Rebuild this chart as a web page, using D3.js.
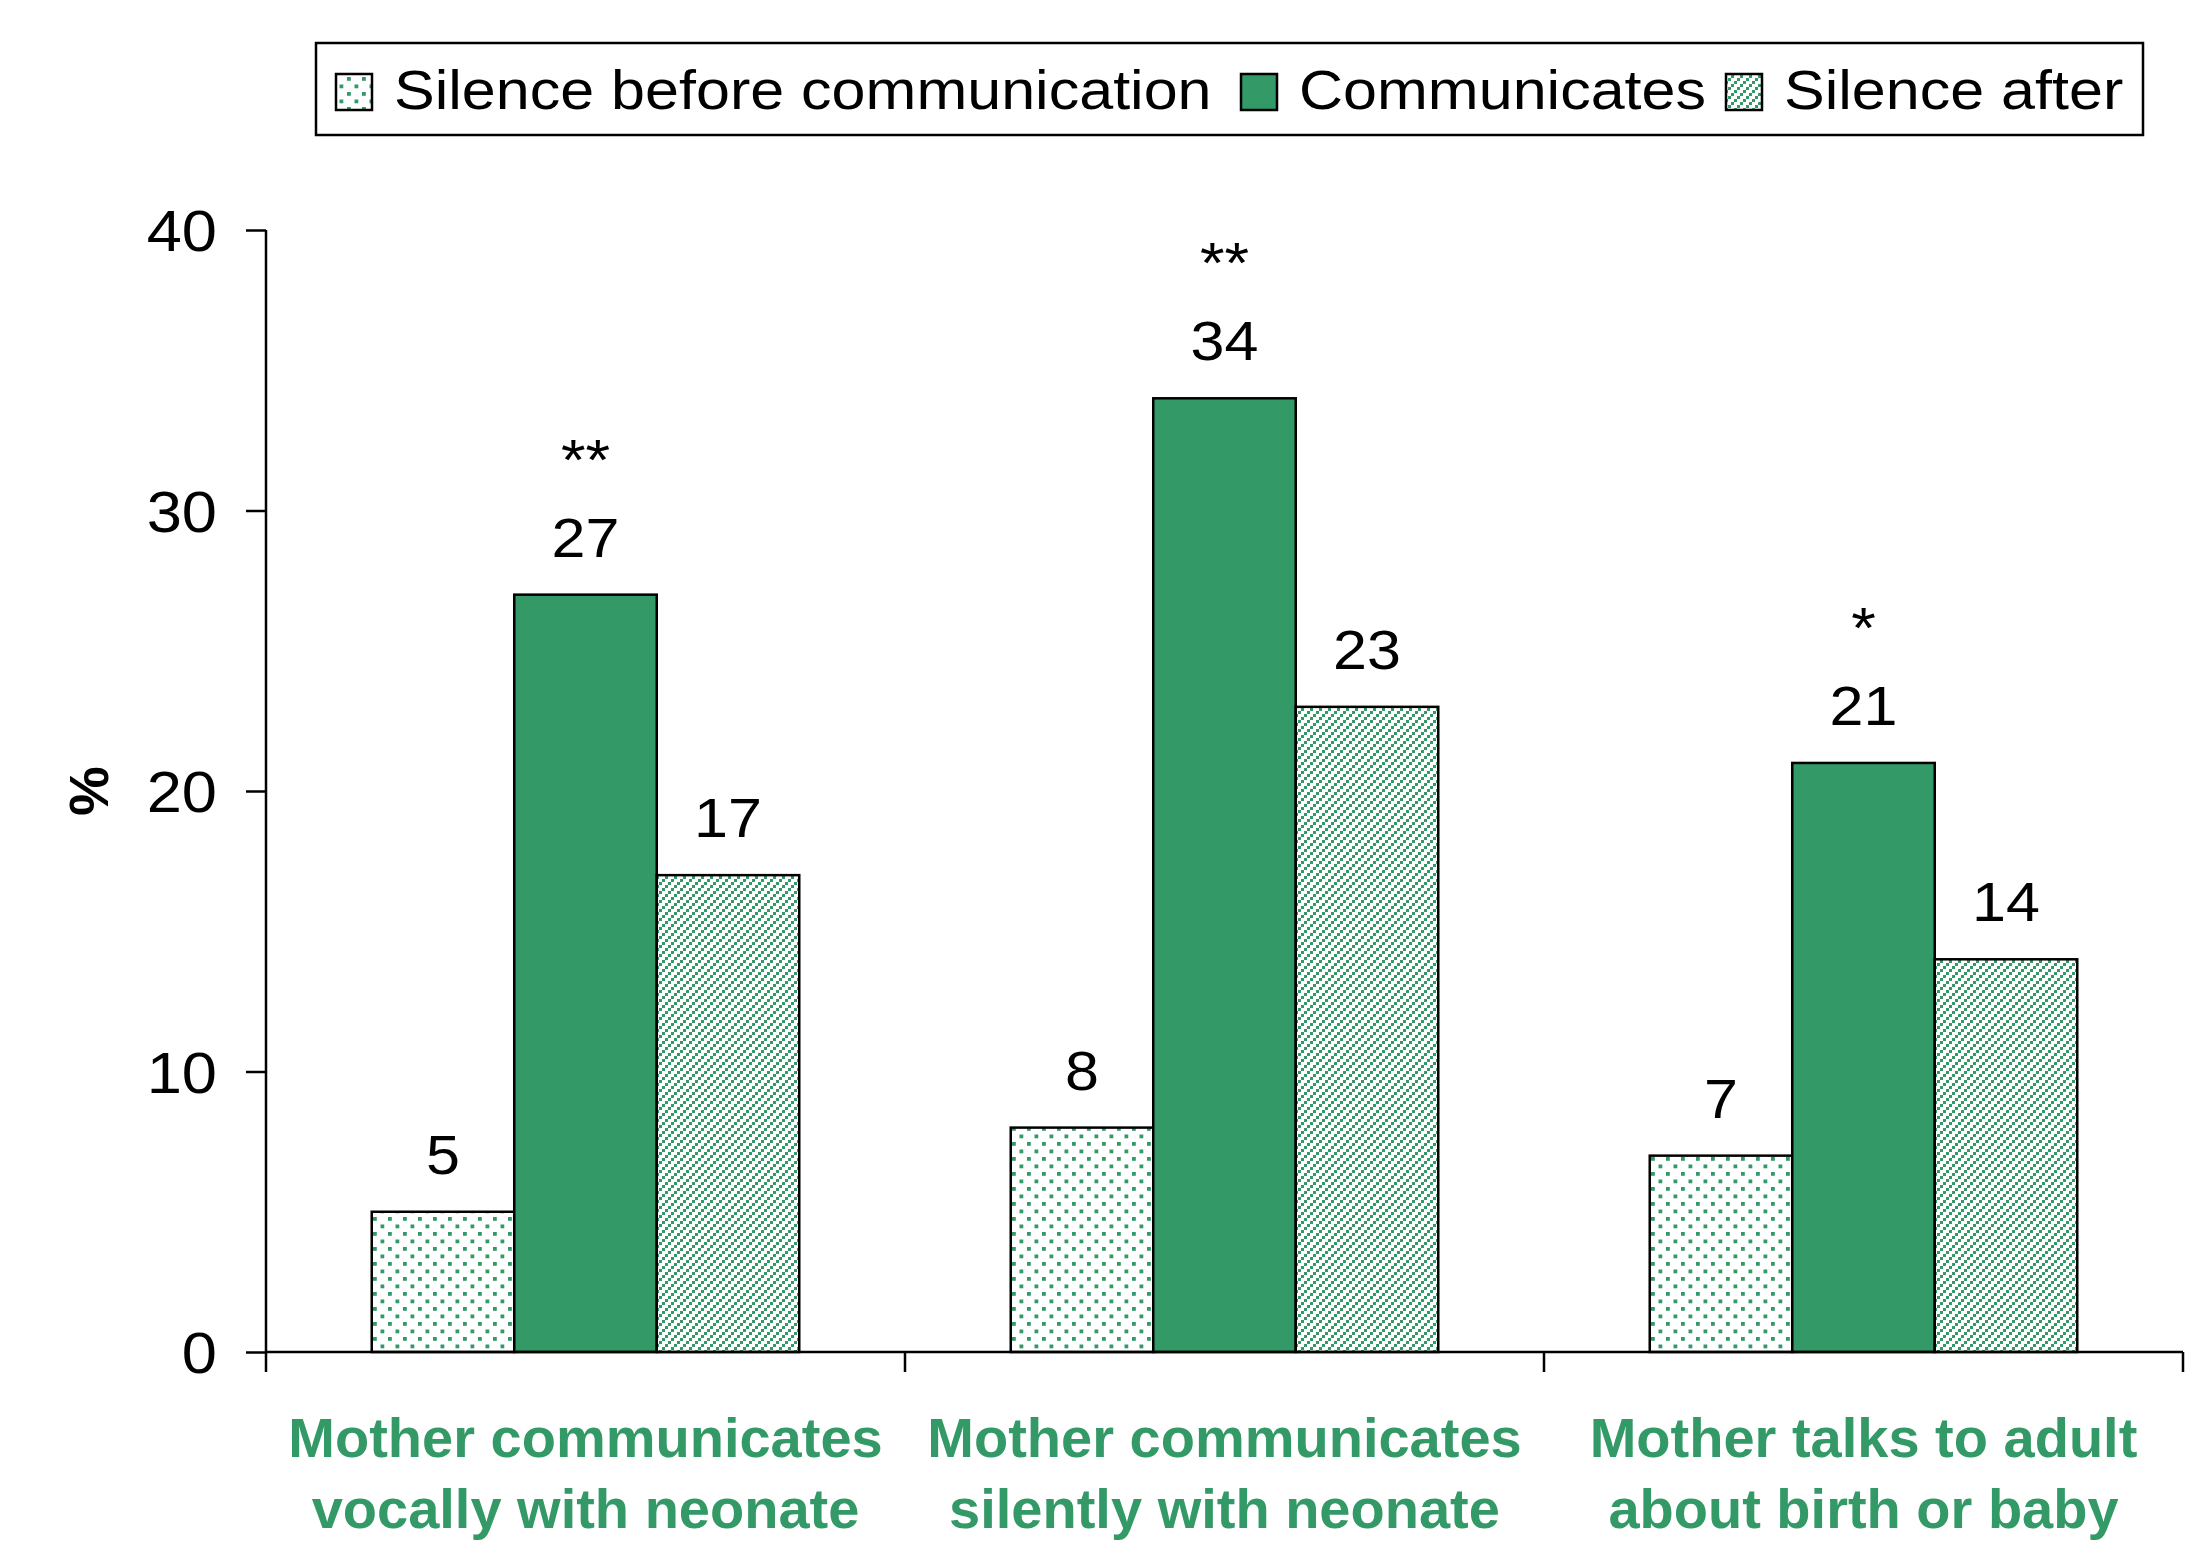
<!DOCTYPE html>
<html>
<head>
<meta charset="utf-8">
<script src="https://cdn.jsdelivr.net/npm/d3@7"></script>
<style>
  html, body { margin: 0; padding: 0; background: #fff; }
  svg { display: block; font-family: "Liberation Sans", Arial, sans-serif; }
</style>
</head>
<body>
<svg id="chart" width="2186" height="1545"></svg>
<script>
// ---- data ----
const categories = [
  ["Mother communicates", "vocally with neonate"],
  ["Mother communicates", "silently with neonate"],
  ["Mother talks to adult", "about birth or baby"]
];
const seriesNames = ["Silence before communication", "Communicates", "Silence after"];
const silenceBefore = [5, 8, 7];
const communicates = [27, 34, 21];
const silenceAfter = [17, 23, 14];
const significance = ["**", "**", "*"];
const yTicks = [0, 10, 20, 30, 40];

(function () {
const seriesValues = [silenceBefore, communicates, silenceAfter];
const GREEN = "#339966";
const SX = 1.09; // horizontal stretch of regular text

const svg = d3.select("#chart");
const defs = svg.append("defs");

// dotted pattern
const pDots = defs.append("pattern").attr("id", "dots")
  .attr("patternUnits", "userSpaceOnUse").attr("width", 15).attr("height", 15);
pDots.append("rect").attr("x", 2).attr("y", 2).attr("width", 3.8).attr("height", 3.8).attr("fill", GREEN);
pDots.append("rect").attr("x", 9.5).attr("y", 9.5).attr("width", 3.8).attr("height", 3.8).attr("fill", GREEN);

// diagonal hatch pattern (staircase of small squares)
const pDiag = defs.append("pattern").attr("id", "diag")
  .attr("patternUnits", "userSpaceOnUse").attr("width", 9).attr("height", 9);
[[0,6],[3,3],[6,0]].forEach(([x,y]) => {
  pDiag.append("rect").attr("x", x).attr("y", y).attr("width", 3).attr("height", 3).attr("fill", GREEN);
});

const fills = ["url(#dots)", GREEN, "url(#diag)"];

// ---- scales ----
const pLeft = 266, pRight = 2183, pTop = 230, pBottom = 1352;
const y = d3.scaleLinear().domain([0, 40]).range([pBottom, pTop]);
const x0 = d3.scaleBand().domain(d3.range(categories.length)).range([pLeft, pRight]).padding(0);
const x1 = d3.scaleBand().domain(d3.range(seriesNames.length)).range([0, x0.bandwidth()])
  .paddingInner(0).paddingOuter(0.742);

// ---- bars ----
const groups = svg.append("g").selectAll("g").data(categories).join("g")
  .attr("transform", (d, i) => `translate(${x0(i)},0)`);

groups.each(function(cat, ci) {
  const g = d3.select(this);
  seriesValues.forEach((vals, si) => {
    const v = vals[ci];
    const cx = x1(si) + x1.bandwidth() / 2;
    g.append("rect")
      .attr("x", x1(si)).attr("y", y(v))
      .attr("width", x1.bandwidth()).attr("height", y(0) - y(v))
      .attr("fill", fills[si]).attr("stroke", "#000").attr("stroke-width", 2.5);
    g.append("text")
      .attr("transform", `translate(${cx},${y(v) - 38}) scale(${SX},1)`)
      .attr("text-anchor", "middle").attr("font-size", 56).attr("fill", "#000")
      .text(v);
    if (si === 1) {
      g.append("text")
        .attr("transform", `translate(${cx},${y(v) - 115}) scale(${SX},1)`)
        .attr("text-anchor", "middle").attr("font-size", 58)
        .attr("fill", "#000")
        .text(significance[ci]);
    }
  });
});

// ---- y axis ----
const yAxis = d3.axisLeft(y).tickValues(yTicks).tickSize(20).tickPadding(0).tickFormat(d3.format("d"));
const gy = svg.append("g").attr("transform", `translate(${pLeft},0)`).call(yAxis);
gy.select(".domain").remove();
gy.selectAll(".tick line").attr("stroke", "#000").attr("stroke-width", 2.5);
gy.selectAll(".tick text").attr("font-size", 58).attr("fill", "#000")
  .attr("font-family", "'Liberation Sans', Arial, sans-serif")
  .attr("x", 0).attr("dy", "0.36em")
  .attr("transform", `translate(-49,0) scale(${SX},1)`);
svg.append("line").attr("x1", pLeft).attr("x2", pLeft).attr("y1", pTop).attr("y2", pBottom + 20)
  .attr("stroke", "#000").attr("stroke-width", 2.5);

// ---- x axis ----
svg.append("line").attr("x1", pLeft).attr("x2", pRight).attr("y1", pBottom).attr("y2", pBottom)
  .attr("stroke", "#000").attr("stroke-width", 2.5);
const boundaries = d3.range(categories.length).map(i => x0(i)).concat([x0(categories.length - 1) + x0.bandwidth()]);
svg.append("g").selectAll("line").data(boundaries.slice(1)).join("line")
  .attr("x1", d => d).attr("x2", d => d).attr("y1", pBottom).attr("y2", pBottom + 20)
  .attr("stroke", "#000").attr("stroke-width", 2.5);

// category labels
const catG = svg.append("g");
categories.forEach((lines, i) => {
  const t = catG.append("text")
    .attr("x", x0(i) + x0.bandwidth() / 2).attr("y", 1457)
    .attr("text-anchor", "middle").attr("font-size", 56).attr("font-weight", "bold").attr("fill", GREEN);
  lines.forEach((ln, li) => {
    t.append("tspan").attr("x", x0(i) + x0.bandwidth() / 2).attr("y", 1457 + li * 71).text(ln);
  });
});

// y axis title
svg.append("text")
  .attr("transform", `translate(108,${(pTop + pBottom) / 2}) rotate(-90)`)
  .attr("text-anchor", "middle").attr("font-size", 56).attr("font-weight", "bold").attr("fill", "#000")
  .text("%");

// ---- legend ----
const leg = svg.append("g");
leg.append("rect").attr("x", 316).attr("y", 43).attr("width", 1827).attr("height", 92)
  .attr("fill", "#fff").attr("stroke", "#000").attr("stroke-width", 2.5);
const swatchX = [336, 1241, 1726];
seriesNames.forEach((name, i) => {
  leg.append("rect").attr("x", swatchX[i]).attr("y", 74).attr("width", 36).attr("height", 36)
    .attr("fill", fills[i]).attr("stroke", "#000").attr("stroke-width", 2.5);
  leg.append("text").attr("transform", `translate(${swatchX[i] + 58},109) scale(${SX},1)`)
    .attr("font-size", 56).attr("fill", "#000").text(name);
});
})();
</script>
</body>
</html>
